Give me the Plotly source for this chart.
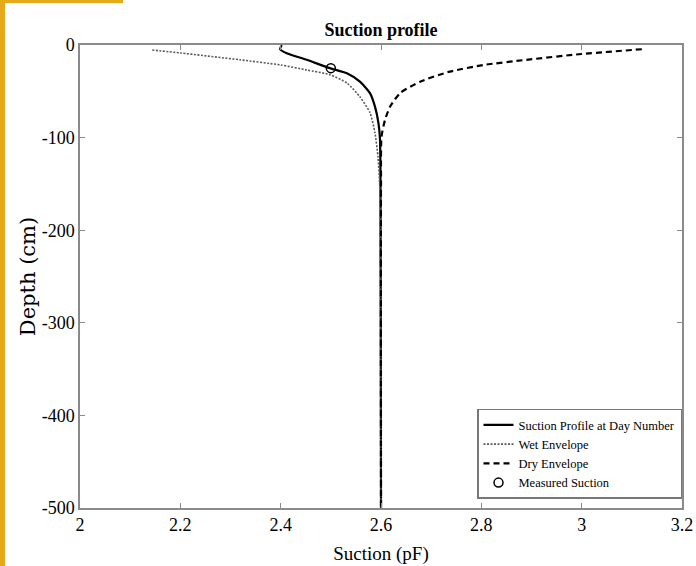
import plotly.graph_objects as go

# Data
suction_profile_x = [2.402, 2.399, 2.412, 2.452, 2.498, 2.532, 2.558, 2.578, 2.588, 2.595, 2.598, 2.599, 2.6]
suction_profile_depth = [0, -4.6, -9, -16, -25, -30.6, -39.6, -52, -66.6, -84.6, -102, -150, -500]

wet_x = [2.144, 2.2, 2.319, 2.4, 2.452, 2.498, 2.532, 2.558, 2.578, 2.588, 2.594, 2.598, 2.6]
wet_depth = [-5.4, -8.6, -16, -21.6, -27, -32, -41, -56, -73, -95, -121, -160, -500]

dry_x = [3.12, 3.0, 2.89, 2.804, 2.737, 2.678, 2.638, 2.618, 2.608, 2.601, 2.6, 2.6]
dry_depth = [-4.6, -9.7, -16, -21.6, -28.8, -39.6, -52, -66.6, -81, -99, -150, -500]

measured_x = [2.5]
measured_depth = [-25]

x_ticks = [2, 2.2, 2.4, 2.6, 2.8, 3, 3.2]
x_tick_labels = ["2", "2.2", "2.4", "2.6", "2.8", "3", "3.2"]
y_ticks = [-500, -400, -300, -200, -100, 0]
y_tick_labels = ["-500", "-400", "-300", "-200", "-100", "0"]

serif = "Liberation Serif, Times New Roman, serif"

fig = go.Figure()
fig.add_trace(go.Scatter(x=suction_profile_x, y=suction_profile_depth, mode="lines",
                         name="Suction Profile at Day Number",
                         line=dict(color="black", width=2.2, shape="spline", smoothing=0.6)))
fig.add_trace(go.Scatter(x=wet_x, y=wet_depth, mode="lines", name="Wet Envelope",
                         line=dict(color="#5a5a5a", width=1.6, dash="2px,1.5px",
                                   shape="spline", smoothing=0.6)))
fig.add_trace(go.Scatter(x=dry_x, y=dry_depth, mode="lines", name="Dry Envelope",
                         line=dict(color="black", width=2.2, dash="6px,4px",
                                   shape="spline", smoothing=0.6)))
fig.add_trace(go.Scatter(x=measured_x, y=measured_depth, mode="markers", name="Measured Suction",
                         marker=dict(symbol="circle-open", size=9, color="black",
                                     line=dict(width=1.5, color="black"))))

axis_common = dict(showline=True, linecolor="#8a8a8a", linewidth=1.5, mirror="ticks",
                   ticks="inside", ticklen=5, tickcolor="#8a8a8a", tickwidth=1.2,
                   showgrid=False, zeroline=False, automargin=False,
                   tickfont=dict(family=serif, size=18, color="black"))

fig.update_xaxes(range=[2, 3.2], tickvals=x_ticks, ticktext=x_tick_labels,
                 title=dict(text="Suction (pF)", font=dict(family=serif, size=19, color="black"),
                            standoff=12),
                 **axis_common)
fig.update_yaxes(range=[-500, 0], tickvals=y_ticks, ticktext=y_tick_labels,
                 title=dict(text="Depth (cm)", font=dict(family="DejaVu Serif, serif", size=21, color="black"),
                            standoff=0),
                 **axis_common)

# Orange frame remnants at the picture edge
orange = "#E5A91A"
shapes = [
    dict(type="rect", xref="paper", yref="paper", x0=-80/602, x1=-75/602,
         y0=(508-566)/463, y1=508/463, fillcolor=orange, line=dict(width=0), layer="above"),
    dict(type="rect", xref="paper", yref="paper", x0=-80/602, x1=(123-80)/602,
         y0=(508-3)/463, y1=508/463, fillcolor=orange, line=dict(width=0), layer="above"),
]

fig.update_layout(
    width=696, height=566, autosize=False,
    margin=dict(l=80, r=14, t=45, b=58, autoexpand=False),
    paper_bgcolor="white", plot_bgcolor="white",
    title=dict(text="<b>Suction profile</b>", x=(381-0)/696, xanchor="center",
               y=1 - 30/566, yanchor="middle",
               font=dict(family=serif, size=18, color="black")),
    showlegend=True,
    legend=dict(x=1, xanchor="right", y=0.02, yanchor="bottom",
                bgcolor="white", bordercolor="#777777", borderwidth=1.5,
                font=dict(family=serif, size=12.5, color="black"),
                itemwidth=30, tracegroupgap=0),
    shapes=shapes,
)

fig.write_html("out.html", config={"displayModeBar": False},
               post_script="document.body.style.margin='0';document.body.style.padding='0';document.body.style.overflow='hidden';")
